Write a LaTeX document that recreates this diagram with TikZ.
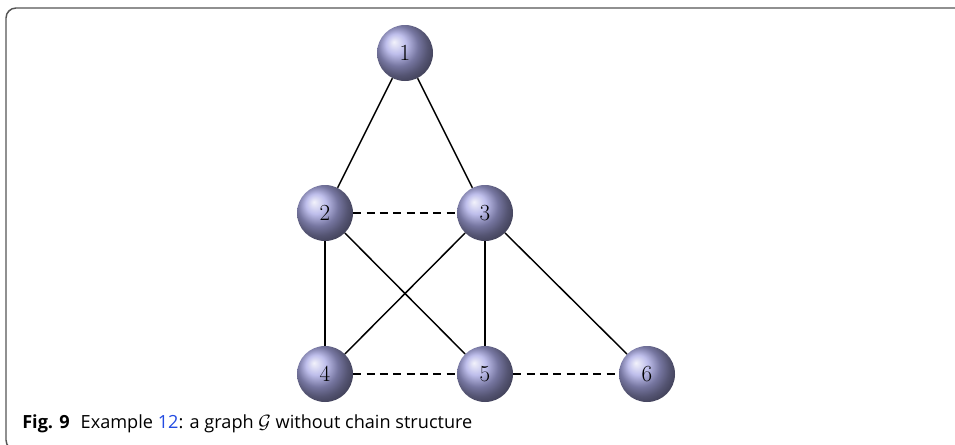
\documentclass[tikz,border=0pt]{standalone}
\usepackage{amsmath,amssymb,amsfonts}
\usepackage{fontspec}
\newfontfamily\captionfont{Open Sans}
\usepackage{tikz}
\usetikzlibrary{arrows.meta,positioning,calc}
\definecolor{ballcol}{RGB}{168,168,228}
\definecolor{linkblue}{RGB}{35,75,225}
\definecolor{framegray}{RGB}{85,85,85}

\begin{document}
\begin{tikzpicture}[x=0.75pt,y=0.75pt,
  vertex/.style={circle,ball color=ballcol,minimum size=42pt,inner sep=0pt,font=\LARGE},
  edge/.style={line width=1.1pt},
  dedge/.style={line width=1.1pt,dash pattern=on 6pt off 4pt}]
\useasboundingbox (0,0) rectangle (955,444);
\clip (0,0) rectangle (955,444);

% box round the figure
\draw[framegray,line width=1.1pt] (955,436) -- (16,436) arc[start angle=90,end angle=180,radius=10]
  -- (6,4) arc[start angle=180,end angle=270,radius=10] -- (955,-6);

\node[vertex] (v1) at (405,391) {1};
\node[vertex] (v2) at (325,231) {2};
\node[vertex] (v3) at (485,231) {3};
\node[vertex] (v4) at (325,70) {4};
\node[vertex] (v5) at (485,70) {5};
\node[vertex] (v6) at (647,70) {6};

\draw[edge] (v1) -- (v2);
\draw[edge] (v1) -- (v3);
\draw[edge] (v2) -- (v4);
\draw[edge] (v2) -- (v5);
\draw[edge] (v3) -- (v4);
\draw[edge] (v3) -- (v5);
\draw[edge] (v3) -- (v6);
\draw[dedge] (v2) -- (v3);
\draw[dedge] (v4) -- (v5);
\draw[dedge] (v5) -- (v6);

\node[anchor=base west,inner sep=0pt,font=\captionfont\fontsize{13.6}{16}\selectfont] (cap) at (22,16)
  {\textbf{Fig. 9}\hspace{0.6em}Example {\color{linkblue}12}: a graph $\mathcal{G}$ without chain structure};
\end{tikzpicture}
\end{document}
